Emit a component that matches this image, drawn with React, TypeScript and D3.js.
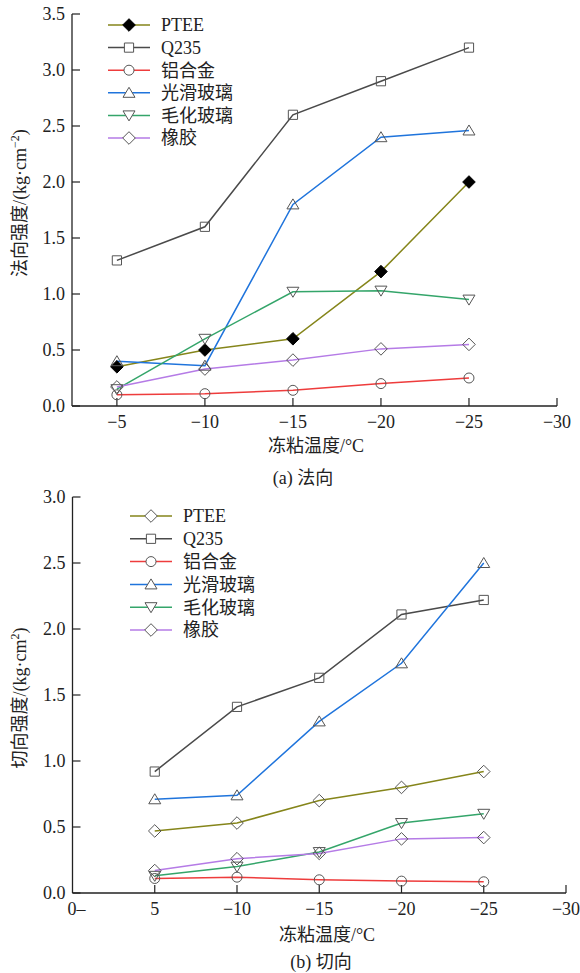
import React from 'react';
import * as d3 from 'd3';

// ---------- data ----------
const temps = [-5, -10, -15, -20, -25];
const seriesNames = ['PTEE', 'Q235', '铝合金', '光滑玻璃', '毛化玻璃', '橡胶'];

// (a) normal strength
const normalPTEE = [0.35, 0.5, 0.6, 1.2, 2.0];
const normalQ235 = [1.3, 1.6, 2.6, 2.9, 3.2];
const normalAl = [0.1, 0.11, 0.14, 0.2, 0.25];
const normalSmoothGlass = [0.4, 0.36, 1.8, 2.4, 2.46];
const normalRoughGlass = [0.15, 0.6, 1.02, 1.03, 0.95];
const normalRubber = [0.17, 0.33, 0.41, 0.51, 0.55];

// (b) tangential strength
const shearPTEE = [0.47, 0.53, 0.7, 0.8, 0.92];
const shearQ235 = [0.92, 1.41, 1.63, 2.11, 2.22];
const shearAl = [0.11, 0.12, 0.1, 0.09, 0.085];
const shearSmoothGlass = [0.71, 0.74, 1.3, 1.74, 2.5];
const shearRoughGlass = [0.13, 0.2, 0.31, 0.53, 0.6];
const shearRubber = [0.17, 0.26, 0.3, 0.41, 0.42];

const topXTicks = [-5, -10, -15, -20, -25, -30];
const topXLabels = ['−5', '−10', '−15', '−20', '−25', '−30'];
const bottomXTicks = [0, -5, -10, -15, -20, -25, -30];
const bottomXLabels = ['0–', '5', '−10', '−15', '−20', '−25', '−30'];
const topYTicks = [0, 0.5, 1, 1.5, 2, 2.5, 3, 3.5];
const bottomYTicks = [0, 0.5, 1, 1.5, 2, 2.5, 3];

// ---------- styles ----------
const colors = ['#85851a', '#4a4a4a', '#ee3c3c', '#1f74dc', '#34a56a', '#b57be6'];
const shapes = ['diamond', 'square', 'circle', 'triUp', 'triDown', 'diamond'];
const serif = "Liberation Serif, Times New Roman, Times, DejaVu Serif, Noto Sans CJK SC, serif";
const FS = 18;
const markerStroke = '#555';

function markerPath(shape: string, x: number, y: number): string {
  switch (shape) {
    case 'square': {
      const s = 4.6;
      return `M${x - s},${y - s}h${2 * s}v${2 * s}h${-2 * s}Z`;
    }
    case 'circle': {
      const r = 5;
      return `M${x - r},${y}a${r},${r} 0 1,0 ${2 * r},0a${r},${r} 0 1,0 ${-2 * r},0Z`;
    }
    case 'triUp': {
      const w = 6, h = 5;
      return `M${x},${y - h - 0.5}L${x + w},${y + h - 0.5}L${x - w},${y + h - 0.5}Z`;
    }
    case 'triDown': {
      const w = 6, h = 5;
      return `M${x},${y + h + 0.5}L${x + w},${y - h + 0.5}L${x - w},${y - h + 0.5}Z`;
    }
    default: {
      const d = 6.3;
      return `M${x},${y - d}L${x + d},${y}L${x},${y + d}L${x - d},${y}Z`;
    }
  }
}

type PanelProps = {
  series: number[][];
  xDomain: [number, number];
  xRange: [number, number];
  yDomain: [number, number];
  yRange: [number, number];
  xTicks: number[];
  xLabels: string[];
  yTicks: number[];
  yTitleMain: string;
  yTitleSup: string;
  yTitleCenter: number;
  xTitleX: number;
  xTitleY: number;
  caption: string;
  captionX: number;
  captionY: number;
  legendX: number;
  legendY: number;
  legendStep: number;
  filledFirst: boolean;
};

function Panel(p: PanelProps) {
  const x = d3.scaleLinear().domain(p.xDomain).range(p.xRange);
  const y = d3.scaleLinear().domain(p.yDomain).range(p.yRange);
  const line = d3
    .line<number>()
    .x((_, i) => x(Math.abs(temps[i])))
    .y((d) => y(d));
  const x0 = p.xRange[0];
  const y0 = p.yRange[0];
  const tick = 8;
  const tstyle = { fontFamily: serif, fontSize: FS };
  return (
    <g>
      {/* axes */}
      <line x1={x0} x2={x0} y1={y0} y2={p.yRange[1]} stroke="#222" strokeWidth={1.3} />
      <line x1={x0} x2={p.xRange[1]} y1={y0} y2={y0} stroke="#222" strokeWidth={1.3} />
      {p.yTicks.map((t) => (
        <g key={'yt' + t}>
          <line x1={x0} x2={x0 + tick} y1={y(t)} y2={y(t)} stroke="#222" strokeWidth={1.2} />
          <text x={x0 - 7} y={y(t)} dy="0.36em" textAnchor="end" style={tstyle} fill="#222">
            {t.toFixed(1)}
          </text>
        </g>
      ))}
      {p.xTicks.map((t, i) => (
        <g key={'xt' + t}>
          {t !== 0 && (
            <line x1={x(Math.abs(t))} x2={x(Math.abs(t))} y1={y0} y2={y0 - tick} stroke="#222" strokeWidth={1.2} />
          )}
          <text
            x={t === 0 ? x(0) - 5 : x(Math.abs(t))}
            y={y0 + 16}
            dy="0.36em"
            textAnchor={t === 0 ? 'start' : 'middle'}
            style={tstyle}
            fill="#222"
          >
            {p.xLabels[i]}
          </text>
        </g>
      ))}
      {/* y title */}
      <text
        transform={`translate(26,${p.yTitleCenter}) rotate(-90)`}
        textAnchor="middle"
        style={tstyle}
        fill="#222"
      >
        {p.yTitleMain}
        <tspan style={{ fontSize: 12 }} dy={-7}>{p.yTitleSup}</tspan>
        <tspan dy={7}>)</tspan>
      </text>
      {/* x title and caption */}
      <text x={p.xTitleX} y={p.xTitleY} dy="0.36em" textAnchor="middle" style={tstyle} fill="#222">
        冻粘温度/°C
      </text>
      <text x={p.captionX} y={p.captionY} dy="0.36em" textAnchor="middle" style={tstyle} fill="#222">
        {p.caption}
      </text>
      {/* series */}
      {p.series.map((s, si) => (
        <path key={'l' + si} d={line(s) || ''} fill="none" stroke={colors[si]} strokeWidth={1.5} />
      ))}
      {p.series.map((s, si) => (
        <g key={'m' + si}>
          {s.map((v, i) => (
            <path
              key={i}
              d={markerPath(shapes[si], x(Math.abs(temps[i])), y(v))}
              fill={si === 0 && p.filledFirst ? '#000' : 'none'}
              stroke={si === 0 && p.filledFirst ? '#000' : markerStroke}
              strokeWidth={1}
            />
          ))}
        </g>
      ))}
      {/* legend */}
      {seriesNames.map((n, i) => {
        const ly = p.legendY + i * p.legendStep;
        const lx = p.legendX;
        return (
          <g key={'lg' + n}>
            <line x1={lx} x2={lx + 42} y1={ly} y2={ly} stroke={colors[i]} strokeWidth={1.5} />
            <path
              d={markerPath(shapes[i], lx + 21, ly)}
              fill={i === 0 && p.filledFirst ? '#000' : '#fff'}
              stroke={i === 0 && p.filledFirst ? '#000' : markerStroke}
              strokeWidth={1}
            />
            <text x={lx + 53} y={ly} dy="0.36em" style={tstyle} fill="#222">
              {n}
            </text>
          </g>
        );
      })}
    </g>
  );
}

export default function App() {
  return (
    <svg
      width={580}
      height={973}
      style={{ position: 'absolute', left: 0, top: 0, background: '#fff' }}
    >
      <rect width={580} height={973} fill="#fff" />
      <Panel
        series={[normalPTEE, normalQ235, normalAl, normalSmoothGlass, normalRoughGlass, normalRubber]}
        xDomain={[2.45, 30]}
        xRange={[72, 557]}
        yDomain={[0, 3.5]}
        yRange={[406, 14]}
        xTicks={topXTicks}
        xLabels={topXLabels}
        yTicks={topYTicks}
        yTitleMain="法向强度/(kg·cm"
        yTitleSup="−2"
        yTitleCenter={203}
        xTitleX={316}
        xTitleY={446}
        caption="(a) 法向"
        captionX={303}
        captionY={478}
        legendX={108}
        legendY={25}
        legendStep={22.6}
        filledFirst={true}
      />
      <Panel
        series={[shearPTEE, shearQ235, shearAl, shearSmoothGlass, shearRoughGlass, shearRubber]}
        xDomain={[0, 30]}
        xRange={[72.5, 566]}
        yDomain={[0, 3]}
        yRange={[893, 497]}
        xTicks={bottomXTicks}
        xLabels={bottomXLabels}
        yTicks={bottomYTicks}
        yTitleMain="切向强度/(kg·cm"
        yTitleSup="2"
        yTitleCenter={698}
        xTitleX={327}
        xTitleY={935}
        caption="(b) 切向"
        captionX={321}
        captionY={962}
        legendX={130}
        legendY={516}
        legendStep={22.8}
        filledFirst={false}
      />
    </svg>
  );
}
